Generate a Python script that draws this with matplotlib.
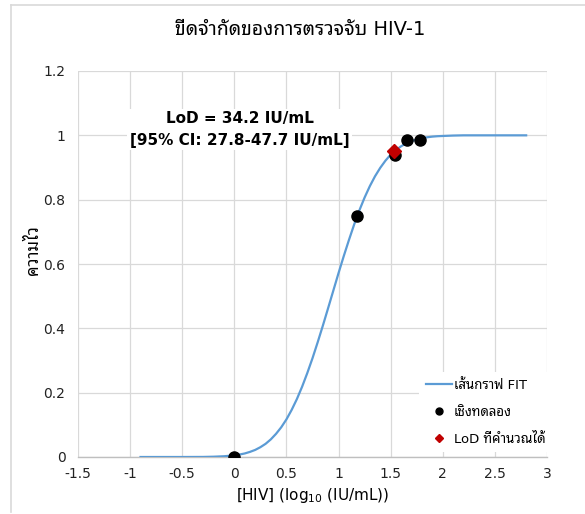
import matplotlib
matplotlib.use('Agg')
import matplotlib.pyplot as plt
from matplotlib.lines import Line2D

plt.rcParams['font.family'] = ['DejaVu Sans', 'Noto Sans Thai Looped']

# experimental hit rates (x = log10 IU/mL)
exp_x = [0.0, 1.176, 1.544, 1.653, 1.778]
exp_y = [0.0, 0.75, 0.94, 0.985, 0.985]

# calculated LoD (34.2 IU/mL)
lod_x = [1.534]
lod_y = [0.95]

# fitted curve
fit_x = [-0.9, -0.5, -0.3, -0.2, -0.1, 0.0, 0.05, 0.1, 0.15, 0.2, 0.25, 0.3,
         0.35, 0.4, 0.45, 0.5, 0.55, 0.6, 0.65, 0.7, 0.75, 0.8, 0.85, 0.9,
         0.95, 1.0, 1.05, 1.1, 1.15, 1.2, 1.25, 1.3, 1.35, 1.4, 1.45, 1.5,
         1.55, 1.6, 1.65, 1.7, 1.75, 1.8, 1.85, 1.9, 1.95, 2.0, 2.1, 2.2,
         2.4, 2.6, 2.8]
fit_y = [0.0, 0.0, 0.0002, 0.0009, 0.0023, 0.005, 0.0077, 0.011, 0.0159,
         0.022, 0.0305, 0.041, 0.0548, 0.072, 0.0924, 0.117, 0.1464, 0.180,
         0.2183, 0.261, 0.3071, 0.357, 0.409, 0.463, 0.5175, 0.572, 0.6247,
         0.675, 0.7231, 0.767, 0.8067, 0.842, 0.8728, 0.899, 0.9213, 0.940,
         0.9543, 0.966, 0.9751, 0.982, 0.9873, 0.991, 0.994, 0.996, 0.9973,
         0.998, 0.9993, 1.0, 1.0, 1.0, 1.0]

x_ticks = [-1.5, -1, -0.5, 0, 0.5, 1, 1.5, 2, 2.5, 3]
x_labels = ['-1.5', '-1', '-0.5', '0', '0.5', '1', '1.5', '2', '2.5', '3']
y_ticks = [0, 0.2, 0.4, 0.6, 0.8, 1.0, 1.2]
y_labels = ['0', '0.2', '0.4', '0.6', '0.8', '1', '1.2']

fig = plt.figure(figsize=(5.85, 5.14), dpi=100)
ax = fig.add_axes([78 / 585, 57 / 514, 469 / 585, 386 / 514])

grid_c = '#D9D9D9'
ax.plot(fit_x, fit_y, color='#5B9BD5', linewidth=1.6, zorder=3,
        solid_joinstyle='round')
ax.plot(exp_x, exp_y, 'o', color='black', markersize=8, zorder=4)
ax.plot(lod_x, lod_y, 'D', color='#C00000', markersize=7, zorder=5)

ax.set_xlim(-1.5, 3)
ax.set_ylim(0, 1.2)
ax.set_xticks(x_ticks)
ax.set_xticklabels(x_labels)
ax.set_yticks(y_ticks)
ax.set_yticklabels(y_labels)
ax.tick_params(length=0, labelsize=10, colors='#222222')
ax.tick_params(axis='x', pad=7)
ax.tick_params(axis='y', pad=9)
ax.grid(True, color=grid_c, linewidth=0.9)
ax.set_axisbelow(True)
for s in ['top', 'right', 'left']:
    ax.spines[s].set_visible(False)
ax.spines['bottom'].set_color('#BFBFBF')
ax.spines['bottom'].set_linewidth(1.0)

ax.set_xlabel('[HIV] (log$_{\\mathregular{10}}$ (IU/mL))', fontsize=11, labelpad=4)
ax.set_ylabel('ความไว', fontsize=12, fontweight='bold')
ax.yaxis.set_label_coords(-0.077, 0.535)
fig.text(0.513, 0.942, 'ขีดจำกัดของการตรวจจับ HIV-1', ha='center', va='center',
         fontsize=14)

ax.text(0.05, 1.019, 'LoD = 34.2 IU/mL\n[95% CI: 27.8-47.7 IU/mL]',
        ha='center', va='center', fontsize=11, fontweight='bold',
        linespacing=1.55,
        bbox=dict(boxstyle='square,pad=0.15', facecolor='white', edgecolor='none'),
        zorder=6)

handles = [
    Line2D([], [], color='#5B9BD5', linewidth=1.6),
    Line2D([], [], marker='o', color='black', linestyle='none', markersize=5),
    Line2D([], [], marker='D', color='#C00000', linestyle='none', markersize=4),
]
labels = ['เส้นกราฟ FIT', 'เชิงทดลอง', 'LoD ที่คำนวณได้']
leg = ax.legend(handles, labels, loc='lower right', bbox_to_anchor=(1.025, -0.005),
                fontsize=9.5, frameon=True, handlelength=2.0, handletextpad=0.15,
                labelspacing=1.05, borderpad=0.5, fancybox=False)
leg.get_frame().set_edgecolor('none')
leg.get_frame().set_facecolor('white')
leg.get_frame().set_alpha(1)

# chart area border
fig.add_artist(Line2D([11 / 585, 11 / 585], [2 / 514, 509 / 514], color=grid_c,
                      linewidth=1.2, transform=fig.transFigure))
fig.add_artist(Line2D([11 / 585, 1.0], [509 / 514, 509 / 514], color=grid_c,
                      linewidth=1.2, transform=fig.transFigure))

fig.savefig('out.png', dpi=100)
